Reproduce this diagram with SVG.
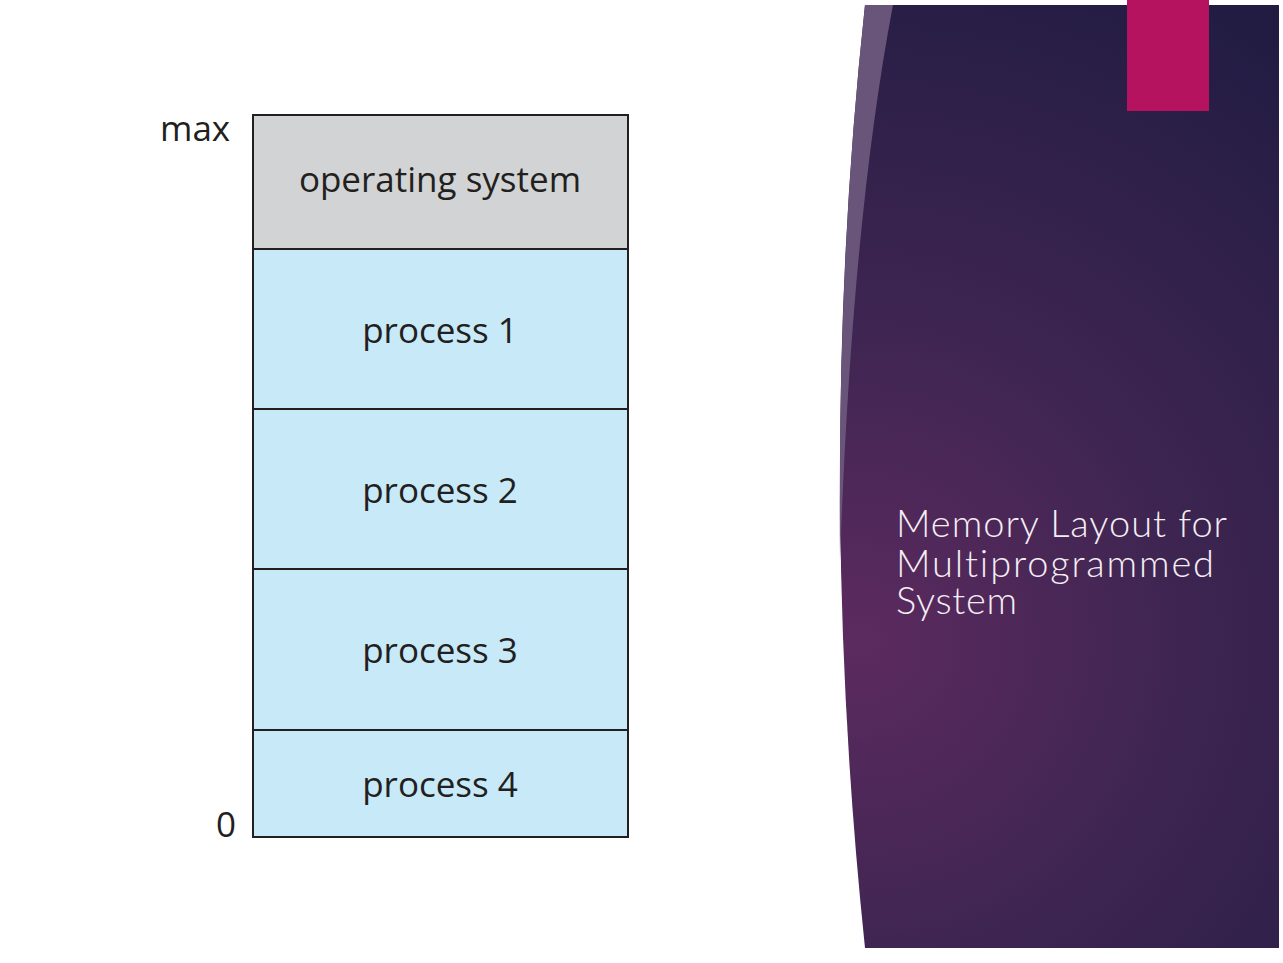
<svg xmlns="http://www.w3.org/2000/svg" width="1283" height="963" viewBox="0 0 1283 963">
<style>
.blk{stroke:#231f20;stroke-width:2}
.os{fill:#d1d3d4}
.pr{fill:#c7e9f8}
.lbl{font-family:"Open Sans","Noto Sans",sans-serif;font-size:35px;fill:#231f20;text-anchor:middle}
.side{font-family:"Open Sans","Noto Sans",sans-serif;font-size:35px;fill:#231f20}
.ttl{font-family:Lato,"Open Sans",sans-serif;font-weight:300;font-size:38px;fill:#f4eef4;font-variant-ligatures:none}
</style>
<defs>
<radialGradient id="bg" cx="860" cy="640" r="720" gradientUnits="userSpaceOnUse">
<stop offset="0" stop-color="#5c2a5f"/>
<stop offset="0.45" stop-color="#3e2551"/>
<stop offset="1" stop-color="#221c43"/>
</radialGradient>
</defs>
<rect width="1283" height="963" fill="#ffffff"/>
<g id="panel">
<path d="M865,5 L1279,5 L1279,948 L865,948 Q815,470 865,5 Z" fill="url(#bg)"/>
<path d="M865,5 L893,5 Q852,220 840,560 Q837,260 865,5 Z" fill="#6a557a"/>
<rect x="1127" y="0" width="82" height="111" fill="#b5135f"/>
<text class="ttl"><tspan x="896" y="537" textLength="331">Memory Layout for</tspan><tspan x="896" y="577" textLength="318">Multiprogrammed</tspan><tspan x="896" y="614" textLength="121">System</tspan></text>
</g>
<g id="os">
<rect class="blk os" x="253" y="115" width="375" height="134"/>
<text class="lbl" x="440" y="192">operating system</text>
</g>
<g id="p1">
<rect class="blk pr" x="253" y="249" width="375" height="160"/>
<text class="lbl" x="440" y="343">process 1</text>
</g>
<g id="p2">
<rect class="blk pr" x="253" y="409" width="375" height="160"/>
<text class="lbl" x="440" y="503">process 2</text>
</g>
<g id="p3">
<rect class="blk pr" x="253" y="569" width="375" height="161"/>
<text class="lbl" x="440" y="663">process 3</text>
</g>
<g id="p4">
<rect class="blk pr" x="253" y="730" width="375" height="107"/>
<text class="lbl" x="440" y="797">process 4</text>
</g>
<g id="labels">
<text class="side" x="160" y="141">max</text>
<text class="side" x="216" y="837">0</text>
</g>
<g id="connectors"></g>
</svg>
